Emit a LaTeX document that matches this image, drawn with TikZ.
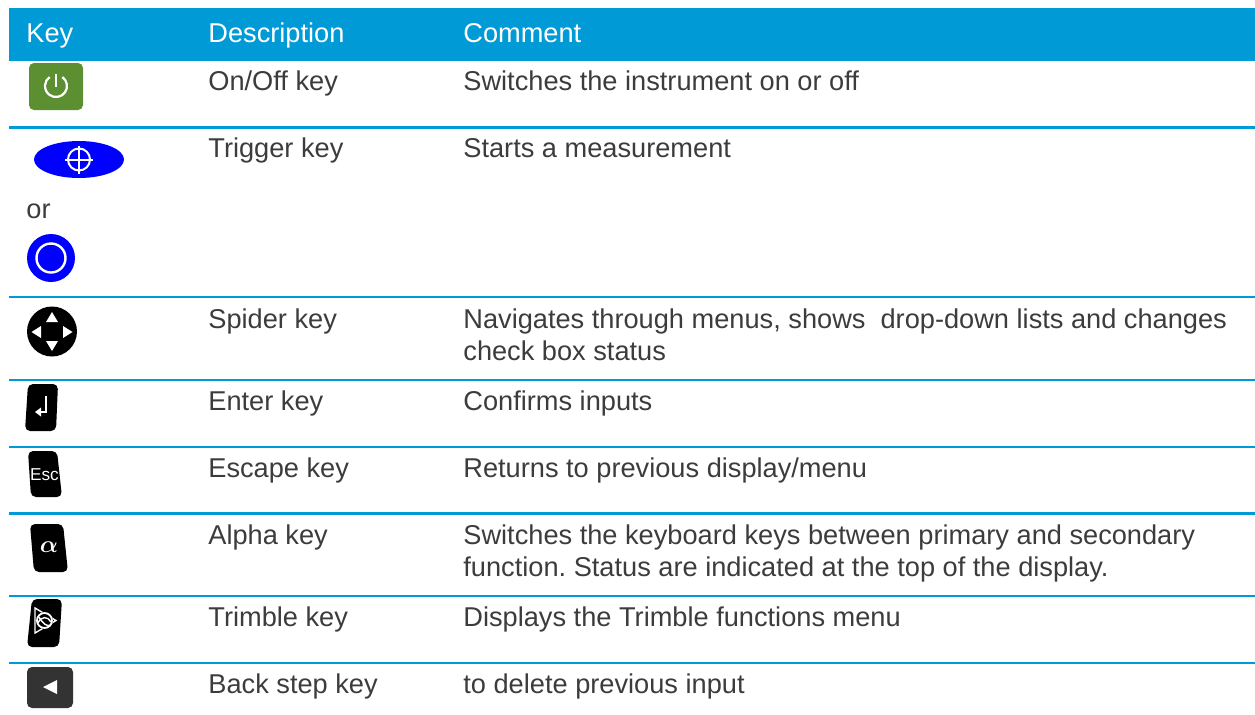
\documentclass[tikz,border=0pt]{standalone}
\usepackage{amsmath}
\usepackage{fontspec}
\setmainfont{Liberation Sans}
\usepackage{tikz}
\usetikzlibrary{positioning,shapes,calc}
\definecolor{headblue}{RGB}{0,154,215}
\definecolor{txtgray}{RGB}{60,60,60}
\definecolor{pwrgreen}{RGB}{91,143,50}
\definecolor{keyblue}{RGB}{0,0,255}
\definecolor{backgray}{RGB}{51,51,51}
\frenchspacing
\tikzset{
  celltext/.style={anchor=base west, inner sep=0pt, text=txtgray, font=\fontsize{13.6}{16}\selectfont},
  headtext/.style={celltext, text=white},
  rowline/.style={draw=headblue, line width=1.25pt},
  keycap/.style={fill=black, rounded corners=2.5pt},
  glyph/.style={draw=white, line width=1pt}
}
\begin{document}
\begin{tikzpicture}[x=0.5pt, y=-0.5pt]
    \useasboundingbox (0,0) rectangle (1255,714);
    % header
    \fill[headblue] (9,8) rectangle (1255,61);
    \node[headtext] (hkey) at (26,42) {Key};
    \node[headtext] (hdesc) at (208,42) {Description};
    \node[headtext] (hcmt) at (463,42) {Comment};
    % row lines
    \foreach \y in {127.5,297,380,447,513.5,596,663}
        \draw[rowline] (9,\y) -- (1255,\y);
    % on/off
    \fill[pwrgreen, rounded corners=2.5pt] (29,63) rectangle (83,110);
    \draw[glyph, line width=1.1pt] (56,86) ++(-55:11) arc[start angle=-55, end angle=235, radius=11];
    \draw[glyph, line width=1.1pt] (56,74) -- (56,87);
    \node[celltext] (dpwr) at (208,90) {On/Off key};
    \node[celltext] (cpwr) at (463,90) {Switches the instrument on or off};
    % trigger
    \fill[keyblue] (79,159.5) ellipse [x radius=45, y radius=18.5];
    \draw[glyph] (79,159.5) circle [radius=11];
    \draw[glyph] (65,159.5) -- (93,159.5) (79,145.5) -- (79,173.5);
    \node[celltext] (ortext) at (26,218) {or};
    \fill[keyblue] (51,258) circle [radius=24];
    \draw[glyph, line width=1.2pt] (51,258) circle [radius=14.5];
    \node[celltext] (dtrig) at (208,157) {Trigger key};
    \node[celltext] (ctrig) at (463,157) {Starts a measurement};
    % spider
    \fill[black] (52,331.5) circle [radius=25];
    \fill[white] (52,312) -- (58,322) -- (46,322) -- cycle;
    \fill[white] (52,351) -- (58,341) -- (46,341) -- cycle;
    \fill[white] (31.5,332) -- (41,326) -- (41,338) -- cycle;
    \fill[white] (72.5,332) -- (63,326) -- (63,338) -- cycle;
    \node[celltext] (dspid) at (208,328) {Spider key};
    \node[celltext] (cspid1) at (463,328) {Navigates through menus, shows\ \ drop-down lists and changes};
    \node[celltext] (cspid2) at (463,360) {check box status};
    % enter
    \fill[keycap] (28,384) -- (58,384) -- (56,431) -- (25,431) -- cycle;
    \draw[glyph, line width=1.3pt] (46,396) -- (46,412) -- (39,412);
    \fill[white] (35,412) -- (41,407.5) -- (41,416.5) -- cycle;
    \node[celltext] (dent) at (208,410) {Enter key};
    \node[celltext] (cent) at (463,410) {Confirms inputs};
    % escape
    \fill[keycap] (28,451) -- (57,451) -- (62,497) -- (31,497) -- cycle;
    \node[inner sep=0pt, text=white, font=\fontsize{8.6}{8.6}\selectfont] (escl) at (44.5,475) {Esc};
    \node[celltext] (desc) at (208,477) {Escape key};
    \node[celltext] (cesc) at (463,477) {Returns to previous display/menu};
    % alpha
    \fill[keycap] (30,524) -- (63,524) -- (68,572) -- (34,572) -- cycle;
    \node[inner sep=0pt, text=white, font=\fontsize{13}{13}\selectfont] (alph) at (49,547) {$\boldsymbol{\alpha}$};
    \node[celltext] (dalp) at (208,544) {Alpha key};
    \node[celltext] (calp1) at (463,544) {Switches the keyboard keys between primary and secondary};
    \node[celltext] (calp2) at (463,576) {function. Status are indicated at the top of the display.};
    % trimble
    \fill[keycap] (32,599) -- (62,599) -- (59,647) -- (27,647) -- cycle;
    \draw[glyph, line width=0.7pt] (35,608) -- (56,620.5) -- (35,633) -- cycle;
    \fill[black] (44.5,620.5) circle [radius=8.5];
    \draw[glyph, line width=0.9pt] (44.5,620.5) circle [radius=7.5];
    \draw[glyph, line width=0.7pt] (38,623) .. controls (41,616) and (48,616) .. (51,622);
    \draw[glyph, line width=0.7pt] (39,617) .. controls (43,624) and (47,627) .. (51,625);
    \node[celltext] (dtrim) at (208,626) {Trimble key};
    \node[celltext] (ctrim) at (463,626) {Displays the Trimble functions menu};
    % back step
    \fill[backgray, rounded corners=2.5pt] (27,667) rectangle (73,708);
    \fill[white] (43,687) -- (57,680) -- (57,694) -- cycle;
    \node[celltext] (dback) at (208,693) {Back step key};
    \node[celltext] (cback) at (463,693) {to delete previous input};
\end{tikzpicture}
\end{document}
